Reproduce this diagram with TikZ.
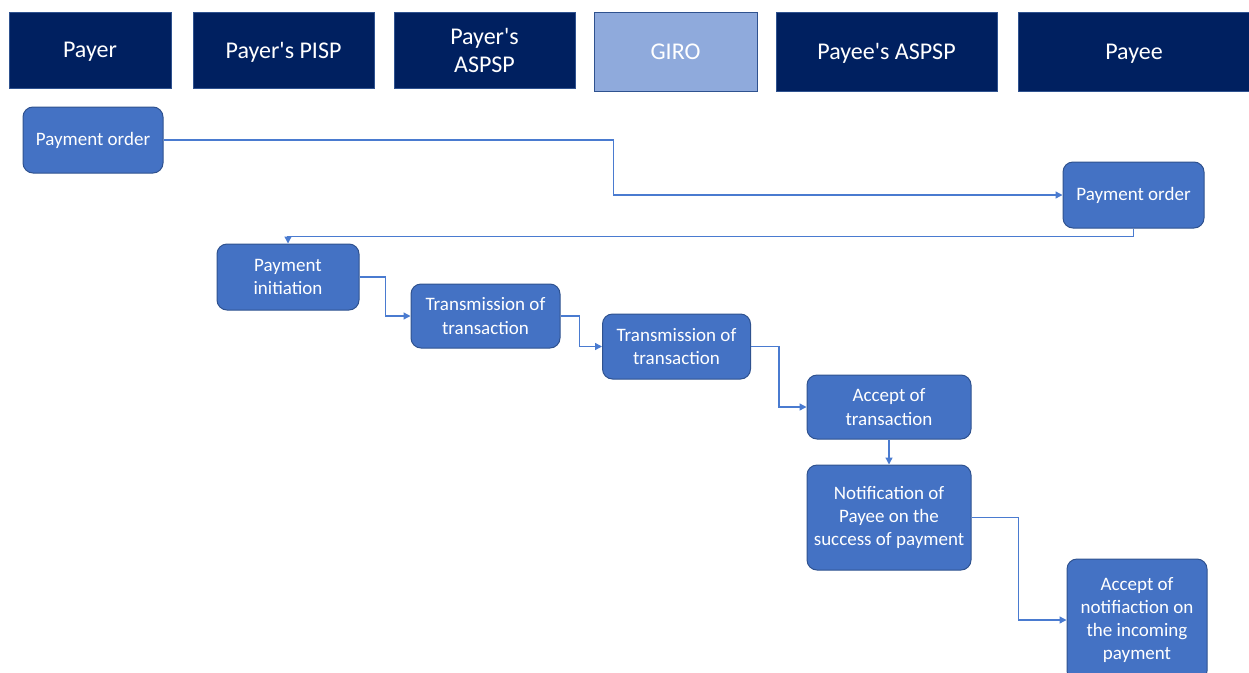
\documentclass[tikz,border=0pt]{standalone}
\usepackage{fontspec}
\setmainfont{Carlito}[Ligatures=TeXOff]
\usetikzlibrary{arrows.meta}
\definecolor{navy}{HTML}{002060}
\definecolor{lane}{HTML}{8FAADC}
\definecolor{stepfill}{HTML}{4472C4}
\definecolor{stepedge}{HTML}{2F528F}
\definecolor{flowline}{HTML}{4A7BD0}
\begin{document}
\begin{tikzpicture}[x=1pt,y=-1pt,
  header/.style={rectangle, draw=stepedge, line width=0.8pt, fill=navy, text=white,
    align=center, inner sep=0pt, font=\fontsize{24}{28}\selectfont},
  oneline/.style={text depth=0pt},
  stepbox/.style={rectangle, rounded corners=10pt, draw=stepedge, line width=1pt,
    fill=stepfill, text=white, align=center, inner sep=0pt,
    font=\fontsize{19}{23.2}\selectfont},
  flow/.style={draw=flowline, line width=1.3pt, -{Triangle[length=7pt,width=7pt]}}]
\clip (0,0) rectangle (1249,672);

% lane headers
\node[header, oneline, minimum width=162pt, minimum height=76pt] (hpayer) at (90,50) {Payer};
\node[header, oneline, minimum width=181pt, minimum height=76pt] (hpisp) at (283.5,50) {Payer's PISP};
\node[header, minimum width=181pt, minimum height=76pt] (haspsp) at (484.5,50) {Payer's\\ASPSP};
\node[header, oneline, fill=lane, minimum width=163pt, minimum height=79pt] (hgiro) at (675.5,51.5) {GIRO};
\node[header, oneline, minimum width=221pt, minimum height=79pt] (hpaspsp) at (886.5,51.5) {Payee's ASPSP};
\node[header, oneline, minimum width=232pt, minimum height=79pt] (hpayee) at (1134,51.5) {Payee};

% process steps
\node[stepbox, minimum width=140pt, minimum height=66pt] (po1) at (93,140) {Payment order};
\node[stepbox, minimum width=141pt, minimum height=66pt] (po2) at (1133.5,195) {Payment order};
\node[stepbox, minimum width=142pt, minimum height=66pt] (pi) at (288,277) {Payment\\initiation};
\node[stepbox, minimum width=149pt, minimum height=64pt] (t1) at (485.5,316) {Transmission of\\transaction};
\node[stepbox, minimum width=148pt, minimum height=65pt] (t2) at (676.5,346.5) {Transmission of\\transaction};
\node[stepbox, minimum width=164pt, minimum height=64pt] (acc) at (889,407) {Accept of\\transaction};
\node[stepbox, minimum width=164pt, minimum height=105pt] (notif) at (889,517.5) {Notification of\\Payee on the\\success of payment};
\node[stepbox, minimum width=140pt, minimum height=122pt] (accn) at (1137,620) {Accept of\\notifiaction on\\the incoming\\payment};

% connectors
\draw[flow] (po1.east) -- ++(450,0) |- (po2.west);
\draw[flow] (po2.south) -- ++(0,8) -| (pi.north);
\draw[flow] (pi.east) -- ++(26,0) |- (t1.west);
\draw[flow] (t1.east) -- ++(19,0) |- (t2.west);
\draw[flow] (t2.east) -- ++(28,0) |- (acc.west);
\draw[flow] (acc.south) -- (notif.north);
\draw[flow] (notif.east) -- ++(47,0) |- (accn.west);
\end{tikzpicture}
\end{document}
